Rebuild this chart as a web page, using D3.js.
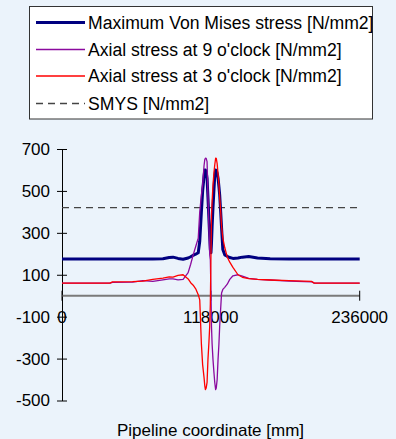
<!DOCTYPE html>
<html>
<head>
<meta charset="utf-8">
<script src="https://cdn.jsdelivr.net/npm/d3@7"></script>
<style>
  body { margin: 0; background: #ebf3fb; }
  svg { display: block; font-family: "Liberation Sans", Arial, sans-serif; }
</style>
</head>
<body>
<div id="chart"></div>
<script>
// pipeline coordinate [mm], shared by the three stress series
var coordinate = [0, 20000, 38000, 40000, 56000, 64000, 72000, 80000, 85000, 88000, 92000, 96000,
  100000, 102000, 104000, 106000, 108000, 109200, 110500, 111500, 112600, 113200, 113700, 114300,
  115000, 115700, 116500, 117100, 117600, 118100, 118500, 119000, 119700, 120500, 121100, 121800,
  122300, 123000, 123700, 124400, 125000, 125800, 126500, 127500, 129000, 131000, 133000, 135500,
  139500, 143000, 148000, 155000, 165000, 180000, 198000, 200000, 236000];

var vonMises = [175, 175, 175, 175, 175, 175, 175, 176, 182, 184, 178, 174,
  180, 186, 193, 198, 205, 260, 400, 500, 570, 600, 600, 590,
  560, 470, 360, 280, 220, 205, 250, 330, 420, 510, 570, 600,
  598, 585, 562, 520, 481, 400, 324, 220, 195, 188, 182, 178,
  180, 184, 187, 180, 176, 175, 175, 175, 175];

var axial9 = [60, 60, 60, 64, 65, 72, 68, 76, 80, 80, 76, 78,
  110, 150, 195, 235, 275, 400, 480, 530, 620, 650, 656, 655,
  640, 481, 324, 195, 171, 13, -146, -230, -305, -370, -414, -448,
  -440, -400, -305, -230, -146, -60, 13, 30, 40, 55, 78, 95,
  100, 93, 83, 78, 75, 70, 66, 60, 60];

var axial3 = [60, 60, 60, 66, 67, 70, 78, 84, 90, 89, 97, 100,
  80, 62, 50, 33, 5, -20, -230, -330, -390, -430, -448, -440,
  -414, -305, -220, -146, -40, 200, 380, 450, 529, 590, 624, 656,
  655, 630, 580, 530, 470, 401, 330, 275, 230, 185, 160, 135,
  100, 88, 82, 78, 75, 72, 68, 60, 60];

var smysCoord = [0, 236000];
var smys = [420, 420];

var yTicks = [700, 500, 300, 100, -100, -300, -500];
var xTicks = [0, 118000, 236000];

var W = 396, H = 439;
var margin = {top: 149, right: 36, bottom: 38, left: 62};
var plotW = W - margin.left - margin.right,
    plotH = H - margin.top - margin.bottom;
var fontSize = 17;

var svg = d3.select("#chart").append("svg")
    .attr("width", W)
    .attr("height", H);

var x = d3.scaleLinear().domain([0, 236000]).range([margin.left, margin.left + plotW - 0.3]);
var y = d3.scaleLinear().domain([-500, 700]).range([margin.top + plotH - 0.5, margin.top]);

// y axis (plain hyphen for negatives, like the original)
var yAxis = d3.axisLeft(y).tickValues(yTicks).tickSize(5).tickSizeOuter(0)
    .tickFormat(function(d) { return String(d); });
var gy = svg.append("g")
    .attr("transform", "translate(" + x(0) + ",0)")
    .call(yAxis);
gy.attr("font-family", null).attr("font-size", null);
gy.select(".domain").attr("stroke", "#000");
gy.selectAll(".tick line").attr("stroke", "#000").attr("x2", 5).attr("x1", -5);
gy.selectAll(".tick text")
    .attr("x", -12)
    .attr("font-size", fontSize)
    .attr("fill", "#000");

// x axis at zero line
svg.append("line")
    .attr("x1", x(0)).attr("x2", x(236000))
    .attr("y1", y(0)).attr("y2", y(0))
    .attr("stroke", "#7a7a7a")
    .attr("stroke-width", 2);

svg.selectAll(".xtick")
    .data(xTicks)
  .enter().append("line")
    .attr("class", "xtick")
    .attr("x1", function(d) { return x(d); })
    .attr("x2", function(d) { return x(d); })
    .attr("y1", y(0) - 5)
    .attr("y2", y(0) + 5)
    .attr("stroke", "#000");

svg.selectAll(".xlabel")
    .data(xTicks)
  .enter().append("text")
    .attr("class", "xlabel")
    .attr("x", function(d) { return x(d); })
    .attr("y", y(-100) + 6)
    .attr("text-anchor", "middle")
    .attr("font-size", fontSize)
    .text(function(d) { return d; });

svg.append("text")
    .attr("x", 210.5)
    .attr("y", 436)
    .attr("text-anchor", "middle")
    .attr("font-size", fontSize)
    .text("Pipeline coordinate [mm]");

// series
var series = [
  {name: "Maximum Von Mises stress [N/mm2]", xs: coordinate, ys: vonMises, color: "#000080", width: 3, dash: null},
  {name: "Axial stress at 9 o'clock [N/mm2]", xs: coordinate, ys: axial9, color: "#8b0a9e", width: 1.3, dash: null},
  {name: "Axial stress at 3 o'clock [N/mm2]", xs: coordinate, ys: axial3, color: "#ff0000", width: 1.3, dash: null},
  {name: "SMYS [N/mm2]", xs: smysCoord, ys: smys, color: "#444444", width: 1.3, dash: "7,5"}
];

var line = d3.line()
    .x(function(d) { return x(d[0]); })
    .y(function(d) { return y(d[1]); });

// draw order: smys, von mises, 9 o'clock, 3 o'clock
[3, 0, 1, 2].forEach(function(i) {
  var s = series[i];
  svg.append("path")
      .datum(d3.zip(s.xs, s.ys))
      .attr("fill", "none")
      .attr("stroke", s.color)
      .attr("stroke-width", s.width)
      .attr("stroke-linejoin", "round")
      .attr("stroke-dasharray", s.dash)
      .attr("d", line);
});

// legend
var legend = svg.append("g");
legend.append("rect")
    .attr("x", 29.5).attr("y", 6.5)
    .attr("width", 343).attr("height", 112.5)
    .attr("fill", "#fff")
    .attr("stroke", "#333");

var rowY = [22.5, 49.5, 76, 103.5];
series.forEach(function(s, i) {
  legend.append("line")
      .attr("x1", 36).attr("x2", 85)
      .attr("y1", rowY[i]).attr("y2", rowY[i])
      .attr("stroke", s.color)
      .attr("stroke-width", i == 0 ? 3 : 1.3)
      .attr("stroke-dasharray", s.dash);
  legend.append("text")
      .attr("x", 88)
      .attr("y", rowY[i] + 6)
      .attr("font-size", 17.6)
      .text(s.name);
});
</script>
</body>
</html>
